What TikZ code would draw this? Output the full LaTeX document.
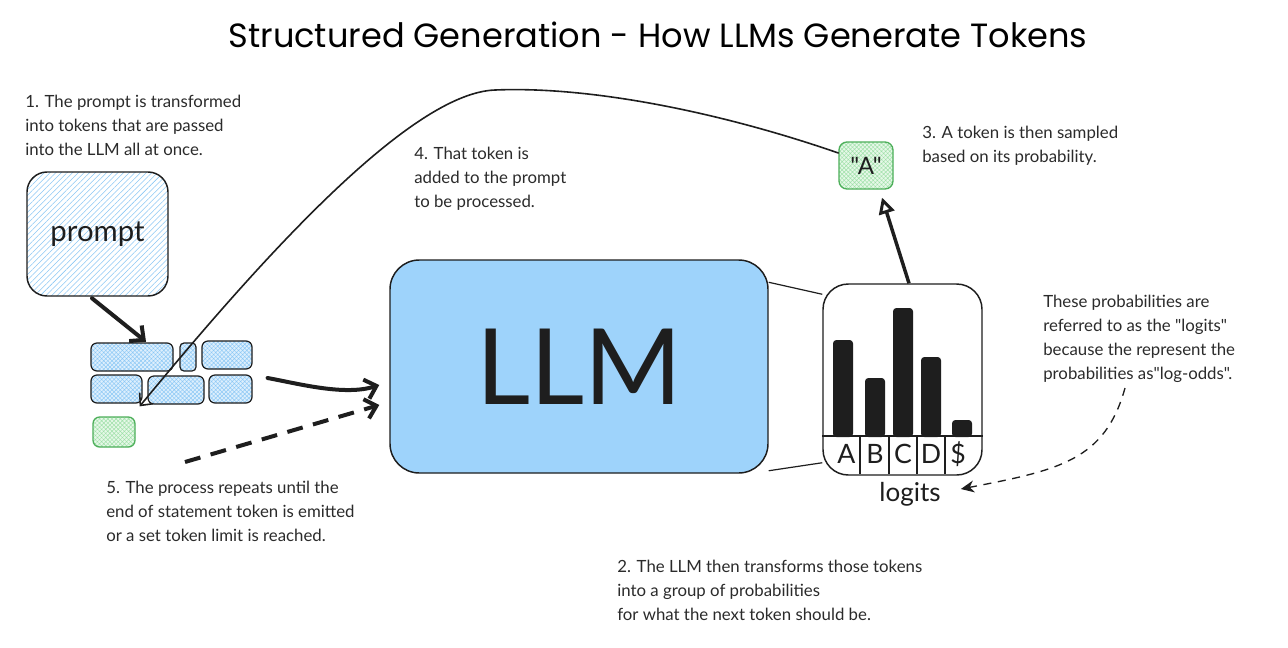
\documentclass[tikz,border=0pt]{standalone}
\usepackage{fontspec}
\setmainfont{Lato}[Ligatures=TeXOff]
\newfontfamily\titlefont{Poppins}
\usetikzlibrary{arrows.meta,patterns.meta,calc}
\definecolor{ink}{HTML}{1E1E1E}
\definecolor{txt}{HTML}{2B2B2B}
\definecolor{llmblue}{HTML}{9ED3FB}
\definecolor{hatchblue}{HTML}{8CC8F5}
\definecolor{tokfill}{HTML}{DDEFFD}
\definecolor{grnline}{HTML}{4DAF5A}
\definecolor{grnhatch}{HTML}{9FE0A8}
\definecolor{grnfill}{HTML}{E6F8E8}
\tikzset{
  box/.style={draw=ink, line width=1.1pt, inner sep=0pt},
  promptbox/.style={box, rounded corners=15pt, preaction={fill=white},
    pattern={Lines[angle=45,distance=3pt,line width=0.4pt]}, pattern color=hatchblue},
  tokbox/.style={box, line width=0.9pt, rounded corners=4.5pt, preaction={fill=tokfill},
    pattern={Hatch[angle=45,distance=2.2pt,line width=0.35pt]}, pattern color=hatchblue},
  grnbox/.style={draw=grnline, line width=1pt, inner sep=0pt, rounded corners=5pt,
    preaction={fill=grnfill}, pattern={Hatch[angle=45,distance=2.2pt,line width=0.35pt]},
    pattern color=grnhatch},
  note/.style={anchor=north west, inner sep=0pt, align=left, text=txt,
    font=\fontsize{12.6pt}{18pt}\selectfont},
  bigarrow/.style={draw=ink, line width=3pt, line cap=round,
    -{Straight Barb[length=8pt,width=15pt,line width=3pt]}},
  thinarrow/.style={draw=ink, line width=1.2pt, line cap=round,
    -{Straight Barb[length=7pt,width=13pt,line width=1.2pt]}},
  letter/.style={inner sep=0pt, text=ink, font=\fontsize{20pt}{20pt}\selectfont},
}
\begin{document}
\begin{tikzpicture}[x=0.75pt,y=-0.75pt]
\useasboundingbox[fill=white] (0,0) rectangle (1288,647);

% title
\node[inner sep=0pt, text=black, font=\titlefont\fontsize{25.2pt}{28pt}\selectfont] (title) at (658,35) {Structured Generation - How LLMs Generate Tokens};

% notes
\node[note] (n1) at (25,95) {1. The prompt is transformed\\into tokens that are passed\\into the LLM all at once.};
\node[note] (n3) at (922,126) {3. A token is then sampled\\based on its probability.};
\node[note] (n4) at (414,147) {4. That token is\\added to the prompt\\to be processed.};
\node[note] (n5) at (106,481) {5. The process repeats until the\\end of statement token is emitted\\or a set token limit is reached.};
\node[note] (n2) at (617,560) {2. The LLM then transforms those tokens\\into a group of probabilities\\for what the next token should be.};
\node[note] (nr) at (1043,295) {These probabilities are\\referred to as the "logits"\\because the represent the\\probabilities as"log-odds".};

% prompt
\node[promptbox, minimum width=141*0.75pt, minimum height=124*0.75pt,
  font=\fontsize{22pt}{22pt}\selectfont, text=ink] (prompt) at (97.5,234) {prompt};

% tokens
\node[tokbox, minimum width=82*0.75pt, minimum height=28*0.75pt] (t1) at (132,357) {};
\node[tokbox, minimum width=16*0.75pt, minimum height=28*0.75pt, rounded corners=3pt] (t2) at (188,357) {};
\node[tokbox, minimum width=50*0.75pt, minimum height=28*0.75pt] (t3) at (227,355) {};
\node[tokbox, minimum width=51*0.75pt, minimum height=28*0.75pt] (t4) at (116.5,389) {};
\node[tokbox, minimum width=56*0.75pt, minimum height=28*0.75pt] (t5) at (176,390) {};
\node[tokbox, minimum width=43*0.75pt, minimum height=28*0.75pt] (t6) at (230.5,389) {};
\node[grnbox, minimum width=42*0.75pt, minimum height=30*0.75pt] (g) at (114,432) {};

% LLM
\node[box, fill=llmblue, rounded corners=22pt, minimum width=378*0.75pt, minimum height=213*0.75pt,
  font=\fontsize{79pt}{79pt}\selectfont, text=ink] (llm) at (579,366.5) {LLM};

% logits box
\node[box, rounded corners=19pt, minimum width=159*0.75pt, minimum height=191*0.75pt] (lg) at (902.5,379.5) {};
\fill[ink, rounded corners=2.5pt] (833,437) rectangle (853,340);
\fill[ink, rounded corners=2.5pt] (865,437) rectangle (885,378);
\fill[ink, rounded corners=2.5pt] (893,437) rectangle (913,308);
\fill[ink, rounded corners=2.5pt] (921,437) rectangle (941,357);
\fill[ink, rounded corners=2.5pt] (952,437) rectangle (972,420);
\draw[ink, line width=1pt] ($(lg.west)+(0,56.5)$) -- ($(lg.east)+(0,56.5)$);
\foreach \xx in {860,889,917,945} \draw[ink, line width=0.8pt] (\xx,436) -- (\xx,474);
\node[letter] (la) at (846.5,454) {A};
\node[letter] (lb) at (875,454) {B};
\node[letter] (lc) at (903,454) {C};
\node[letter] (ld) at (931,454) {D};
\node[letter] (ls) at (958,454) {\$};
\node[inner sep=0pt, text=ink, font=\fontsize{19.5pt}{19.5pt}\selectfont] (lgl) at (910,494) {logits};

% A token
\node[grnbox, minimum width=54*0.75pt, minimum height=47*0.75pt, rounded corners=6pt,
  font=\fontsize{18pt}{18pt}\selectfont, text=ink] (abox) at (866,165.5) {"A"};

% connectors
\draw[bigarrow] ($(prompt.south)+(-5.5,2)$) -- ($(t1.north)+(14,-1)$);
\draw[bigarrow] ($(t6.east)+(15,-11)$) .. controls (300,384) and (345,396) .. ($(llm.west)+(-10,18.5)$);
\coordinate (dstart) at (185,462);
\draw[bigarrow, dash pattern=on 12pt off 8pt, line cap=butt] (dstart) -- ($(llm.west)+(-10,38.5)$);
\draw[ink, line width=0.9pt] ($(llm.north east)+(0,23)$) -- ($(lg.north west)+(0,11)$);
\draw[ink, line width=0.9pt] ($(llm.south east)+(0,-3)$) -- ($(lg.south west)+(0,-13)$);
\draw[draw=ink, line width=2.6pt, -{Triangle[open,length=12pt,width=12pt,line width=2.2pt]}]
  ($(lg.north)+(6.5,0)$) -- ($(abox.south)+(16,8)$);
\draw[thinarrow] ($(abox.west)+(0,-12.5)$) .. controls (720,112) and (590,86) .. (495,90)
  .. controls (410,93) and (260,260) .. ($(g.north east)+(4,-10)$);
\coordinate (rstart) at (1125,388);
\draw[draw=ink, line width=1pt, dash pattern=on 6pt off 5pt, -{Stealth[length=10pt,width=9pt]}]
  (rstart) .. controls (1105,460) and (1060,470) .. ($(lgl.east)+(20,-5)$);
\end{tikzpicture}
\end{document}
